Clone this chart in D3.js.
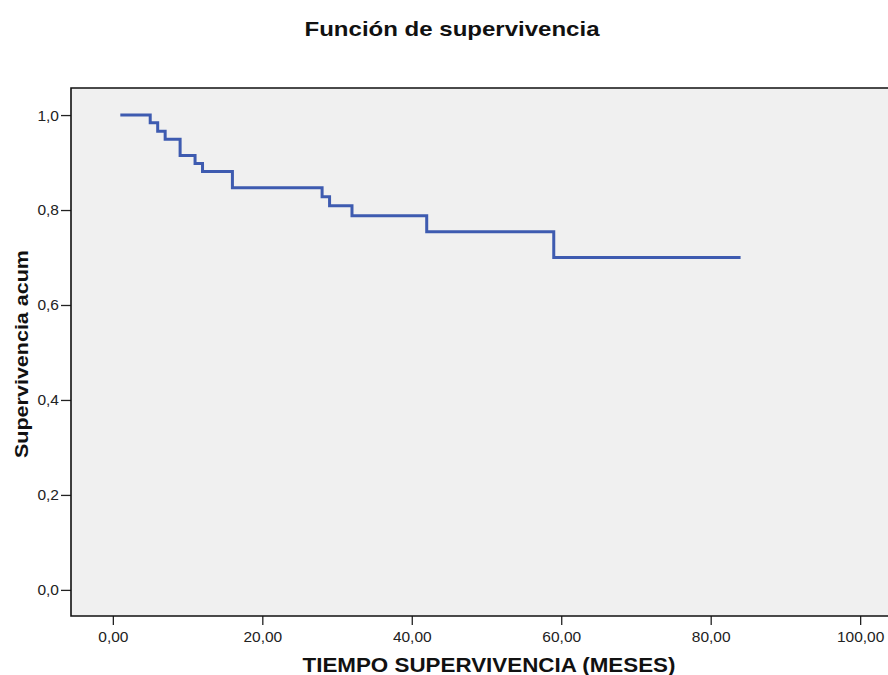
<!DOCTYPE html>
<html>
<head>
<meta charset="utf-8">
<script src="https://cdn.jsdelivr.net/npm/d3@7"></script>
<style>
  html, body { margin: 0; padding: 0; background: #ffffff; }
  svg { display: block; font-family: "Liberation Sans", Arial, sans-serif; }
</style>
</head>
<body>
<svg id="chart" width="888" height="675"></svg>
<script>
// Kaplan-Meier survival estimate (time in months, cumulative survival)
const stepTimes = [1, 5, 6, 7, 9, 11, 12, 16, 28, 29, 32, 42, 59];
const survival  = [1.0, 0.984, 0.966, 0.949, 0.915, 0.898, 0.881, 0.847, 0.828, 0.809, 0.788, 0.754, 0.700];
const lastTime = 84;

const xTicks = [0, 20, 40, 60, 80, 100];
const yTicks = [0, 0.2, 0.4, 0.6, 0.8, 1.0];

const titleText = "Función de supervivencia";
const xTitle = "TIEMPO SUPERVIVENCIA (MESES)";
const yTitle = "Supervivencia acum";

const svg = d3.select("#chart");
const plot = { left: 71, top: 88, right: 902, bottom: 616 };

const x = d3.scaleLinear().domain([-5.6, 105.6]).range([plot.left, plot.right]);
const y = d3.scaleLinear().domain([-0.055, 1.057]).range([plot.bottom, plot.top]);

const fmtX = v => d3.format(".2f")(v).replace(".", ",");
const fmtY = v => d3.format(".1f")(v).replace(".", ",");

// plot background
svg.append("rect")
  .attr("x", plot.left).attr("y", plot.top)
  .attr("width", plot.right - plot.left).attr("height", plot.bottom - plot.top)
  .attr("fill", "#f0f0f0");

// step curve
const pts = stepTimes.map((t, i) => [t, survival[i]]);
pts.push([lastTime, survival[survival.length - 1]]);
const line = d3.line().x(d => x(d[0])).y(d => y(d[1])).curve(d3.curveStepAfter);
svg.append("path")
  .datum(pts)
  .attr("d", line)
  .attr("fill", "none")
  .attr("stroke", "#3e5bb0")
  .attr("stroke-width", 3)
  .attr("stroke-linejoin", "miter")
  .attr("stroke-linecap", "butt");

// axes
const yAxis = d3.axisLeft(y).tickValues(yTicks).tickFormat(fmtY).tickSize(10).tickPadding(2);
const xAxis = d3.axisBottom(x).tickValues(xTicks).tickFormat(fmtX).tickSize(9).tickPadding(6);

const gy = svg.append("g").attr("transform", `translate(${plot.left},0)`).call(yAxis);
const gx = svg.append("g").attr("transform", `translate(0,${plot.bottom})`).call(xAxis);

[gx, gy].forEach(g => {
  g.select(".domain").remove();
  g.selectAll(".tick line").attr("stroke", "#222").attr("stroke-width", 1.3);
  g.selectAll(".tick text").attr("fill", "#222").style("font-size", "15.5px")
    .style("font-family", "'Liberation Sans', Arial, sans-serif");
});

// frame: left, top, bottom edges
svg.append("path")
  .attr("d", `M${plot.right},${plot.top}H${plot.left}V${plot.bottom}H${plot.right}`)
  .attr("fill", "none")
  .attr("stroke", "#111")
  .attr("stroke-width", 1.6);

// titles
svg.append("text")
  .attr("x", 452).attr("y", 36)
  .attr("text-anchor", "middle")
  .attr("textLength", 295).attr("lengthAdjust", "spacingAndGlyphs")
  .style("font-size", "21px").style("font-weight", "bold").attr("fill", "#111")
  .text(titleText);

svg.append("text")
  .attr("x", 489).attr("y", 672)
  .attr("text-anchor", "middle")
  .attr("textLength", 373).attr("lengthAdjust", "spacingAndGlyphs")
  .style("font-size", "21px").style("font-weight", "bold").attr("fill", "#111")
  .text(xTitle);

svg.append("text")
  .attr("transform", "translate(28,354) rotate(-90)")
  .attr("text-anchor", "middle")
  .attr("textLength", 208).attr("lengthAdjust", "spacingAndGlyphs")
  .style("font-size", "19px").style("font-weight", "bold").attr("fill", "#111")
  .text(yTitle);
</script>
</body>
</html>
